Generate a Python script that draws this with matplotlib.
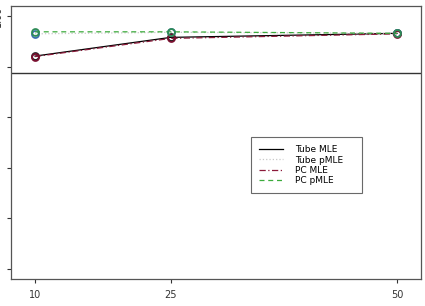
import numpy as np
from matplotlib import pyplot as plt

# sample sizes and coverage estimates
n_sizes = [10, 25, 50]
tube_mle = [0.9605, 0.979, 0.983]
tube_pmle = [0.9825, 0.984, 0.983]
pc_mle = [0.960, 0.978, 0.9825]
pc_pmle = [0.9845, 0.9845, 0.983]
ref_level = 0.944
y_ticks = [0.75, 0.80, 0.85, 0.90, 0.95, 1.00]

fig = plt.figure(figsize=(4.25, 3.06), dpi=100)
ax = fig.add_axes([0.0259, 0.0882, 0.9647, 0.8918])

series = [
    ('Tube MLE', tube_mle, '-', '#000000', '#222222'),
    ('Tube pMLE', tube_pmle, ':', '#c8c8c8', '#3a6fb0'),
    ('PC MLE', pc_mle, (0, (5, 2, 1, 2)), '#8b1a3a', '#7a1030'),
    ('PC pMLE', pc_pmle, (0, (4, 3)), '#3cab3c', '#2e8b57'),
]
for name, vals, ls, lc, mc in series:
    ax.plot(n_sizes, vals, linestyle=ls, color=lc, lw=0.9, label=name)
    ax.plot(n_sizes, vals, linestyle='none', marker='o', ms=5,
            mfc='none', mec=mc, mew=1.3)

ax.axhline(ref_level, color='#333333', lw=1)

ax.set_xlim(7.35, 52.65)
ax.set_ylim(0.7401, 1.0099)
ax.set_xticks(n_sizes)
ax.set_xticklabels([str(v) for v in n_sizes])
ax.set_yticks(y_ticks)
ax.set_yticklabels(['%0.2f' % v for v in y_ticks], rotation=90, va='center')
ax.tick_params(axis='both', length=3, width=0.8, color='#333333',
               labelsize=7, labelcolor='#333333')
ax.tick_params(axis='x', pad=5)
ax.tick_params(axis='y', pad=3)
for s in ax.spines.values():
    s.set_color('#555555')
    s.set_linewidth(0.9)

leg = ax.legend(loc='upper left', bbox_to_anchor=(0.5854, 0.0, 0.2707, 0.5201),
                mode='expand', borderaxespad=0, fontsize=6.5,
                frameon=True, fancybox=False, handlelength=2.65,
                labelspacing=0.15, borderpad=0.9, handletextpad=1.3)
leg.get_frame().set_edgecolor('#444444')
leg.get_frame().set_linewidth(0.8)

plt.savefig('out.png', dpi=100)
